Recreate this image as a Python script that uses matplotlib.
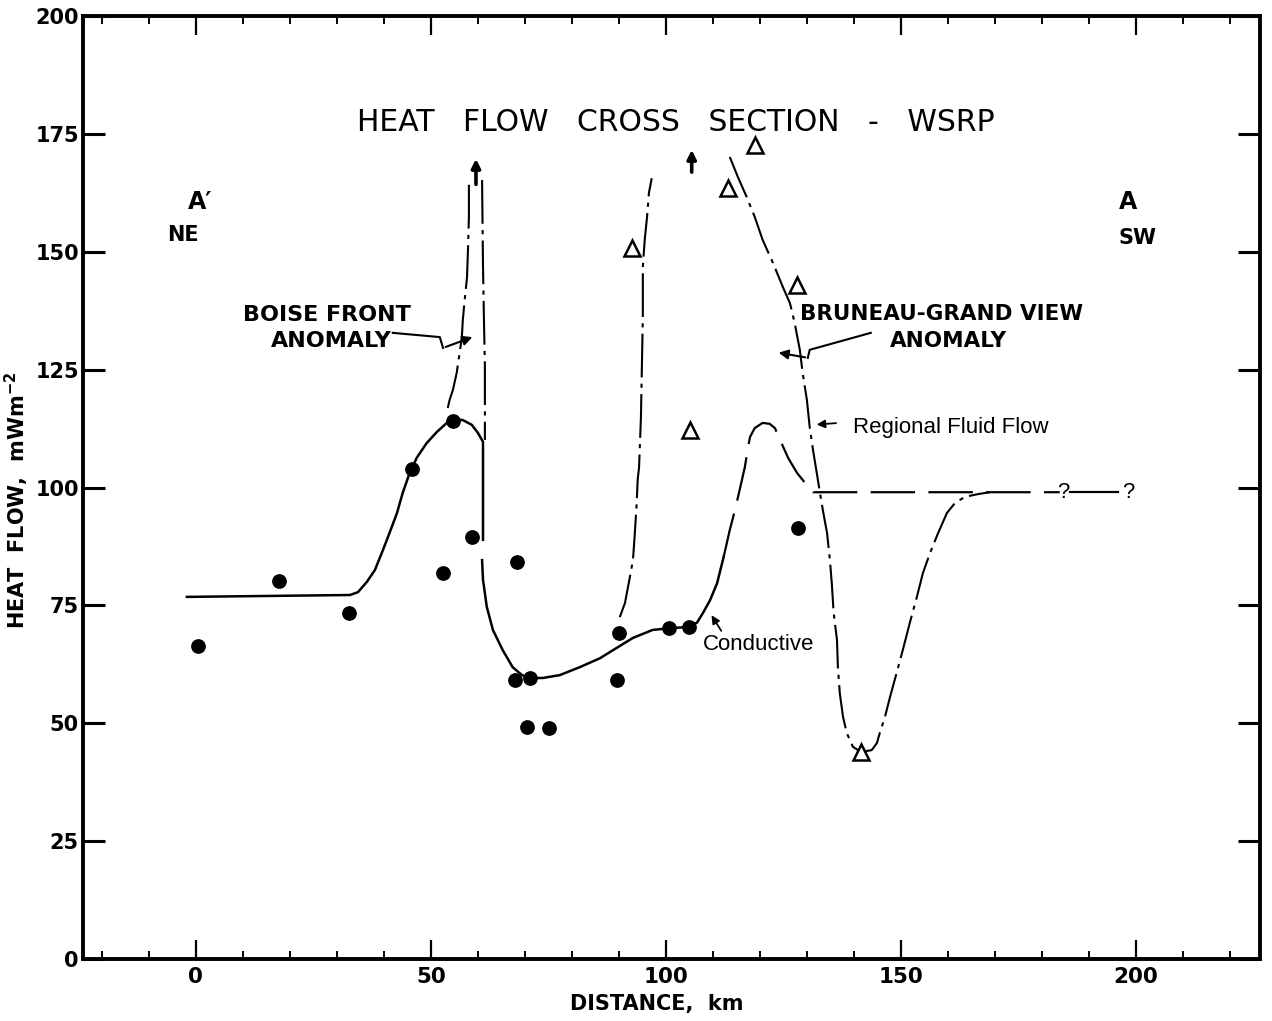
import matplotlib.pyplot as plt
from matplotlib.ticker import MultipleLocator

# measured heat flow (filled circles)
dist_medido = [0.4, 17.7, 32.6, 46.0, 54.7, 52.6, 58.7, 68.3, 67.9, 71.1,
               70.4, 75.1, 90.0, 89.6, 100.6, 104.9, 128.1]
fluxo_medido = [66.4, 80.2, 73.4, 103.9, 114.1, 81.9, 89.5, 84.2, 59.2, 59.6,
                49.2, 49.0, 69.1, 59.2, 70.2, 70.4, 91.4]

# other sites (open triangles)
dist_tri = [92.8, 105.1, 118.9, 113.2, 127.9, 141.5]
fluxo_tri = [150.8, 112.2, 172.6, 163.5, 142.9, 43.9]

# conductive model, solid part
cond1_x = [-1.9, 32.8, 34.5, 36.4, 38.1, 39.8, 41.3, 42.8, 44.0, 45.5, 47.0, 49.1,
           51.3, 53.4, 54.7, 56.8, 58.7, 60.0, 61.1, 61.1, 61.1]
cond1_y = [76.8, 77.2, 77.8, 80.0, 82.5, 86.7, 90.6, 94.6, 98.8, 103.1, 106.3, 109.4,
           111.8, 113.7, 114.5, 114.3, 113.3, 111.6, 109.7, 107.3, 88.9]
cond2_x = [60.9, 61.1, 61.9, 63.2, 65.3, 67.4, 69.4, 71.1, 73.8, 77.4, 81.7, 86.0,
           88.1, 93.0, 97.2, 101.5, 104.5, 106.6, 107.9, 109.4, 110.9, 112.3]
cond2_y = [84.6, 80.4, 74.7, 69.8, 65.5, 61.9, 60.2, 59.6, 59.6, 60.2, 61.9, 63.8,
           65.1, 68.1, 69.8, 70.2, 70.4, 71.3, 73.4, 76.1, 79.7, 85.3]
# conductive model, dashed part
cond3_x = [112.3, 113.6, 114.7, 115.7, 116.8, 117.4, 117.9, 118.9, 120.6, 122.1,
           123.2, 124.3, 126.0, 127.9, 129.6, 131.3, 183.8]
cond3_y = [85.3, 91.0, 95.2, 99.5, 104.3, 108.0, 110.7, 112.6, 113.7, 113.5,
           112.6, 110.1, 106.3, 103.1, 101.0, 99.0, 99.0]

# fluid flow curves (dash-dot)
boise_esq_x = [58.1, 58.1, 57.9, 57.7, 57.2, 56.8, 56.6, 56.0, 55.5, 54.7, 54.0, 53.4]
boise_esq_y = [164.2, 157.4, 150.4, 144.6, 139.8, 135.5, 131.9, 127.7, 124.3, 120.7,
               118.6, 116.0]
boise_dir_x = [60.9, 61.1, 61.3, 61.5, 61.5]
boise_dir_y = [165.2, 146.8, 135.5, 125.6, 110.1]
meio_x = [90.2, 91.3, 92.1, 93.0, 93.4, 93.8, 94.0, 94.3, 94.7, 94.9, 95.1, 95.1,
          95.5, 96.0, 96.4, 97.0]
meio_y = [72.5, 75.5, 79.7, 84.6, 90.3, 96.7, 101.6, 104.3, 115.0, 125.6, 136.2, 146.8,
          152.5, 157.4, 162.5, 165.6]
bruneau_x = [113.6, 115.3, 117.2, 118.9, 120.6, 122.8, 124.9, 126.4, 127.4, 128.5,
             129.1, 130.0, 130.6, 131.3, 132.1, 132.8, 133.4, 134.3, 134.9, 135.3,
             135.7, 136.4, 136.6, 137.0, 137.7, 138.5, 139.8, 141.5, 143.8, 144.9,
             145.5, 146.6, 147.7, 149.1, 150.4, 151.9, 153.4, 154.7, 156.2, 157.9,
             159.8, 161.5, 163.6, 166.4, 168.9]
bruneau_y = [170.1, 165.9, 161.6, 157.4, 152.5, 147.6, 142.5, 139.1, 134.9, 129.2,
             124.3, 118.6, 112.8, 108.0, 103.1, 98.8, 95.2, 90.3, 84.6, 79.7,
             73.4, 67.7, 61.9, 56.4, 51.3, 47.9, 45.0, 43.9, 44.3, 45.8,
             47.9, 51.3, 55.6, 60.7, 65.5, 71.3, 76.8, 81.9, 86.1, 90.3,
             94.6, 96.7, 98.0, 98.6, 99.0]

preto = 'black'
traco_ponto = (0, (21, 3, 2, 3))
tracejado = (0, (20, 6))

plt.rcParams['font.family'] = 'DejaVu Sans'

fig = plt.figure(figsize=(12.72, 10.21), dpi=100)
ax = fig.add_axes([83 / 1272, 62 / 1021, 1177 / 1272, 943 / 1021])

ax.plot(cond1_x, cond1_y, color=preto, lw=1.8)
ax.plot(cond2_x, cond2_y, color=preto, lw=1.8)
ax.plot(cond3_x, cond3_y, color=preto, lw=1.6, linestyle=tracejado)
ax.plot([186.0, 196.2], [99.0, 99.0], color=preto, lw=1.6)

for xs, ys in [(boise_esq_x, boise_esq_y), (boise_dir_x, boise_dir_y),
               (meio_x, meio_y), (bruneau_x, bruneau_y)]:
    ax.plot(xs, ys, color=preto, lw=1.5, linestyle=traco_ponto)

ax.plot(dist_medido, fluxo_medido, 'o', color=preto, ms=9.6, zorder=5)
ax.plot(dist_tri, fluxo_tri, '^', mfc='white', mec=preto, mew=1.8, ms=11, zorder=5)

# upward arrows (values off scale)
for xa, y0, y1 in [(59.6, 163.7, 170.3), (105.5, 166.3, 172.2)]:
    ax.annotate('', xy=(xa, y1), xytext=(xa, y0),
                arrowprops=dict(arrowstyle='-|>', color=preto, lw=2.6, mutation_scale=13))

# anomaly labels with jogged leader arrows
ax.plot([41.9, 51.9, 52.6], [132.8, 131.9, 129.6], color=preto, lw=1.5)
ax.annotate('', xy=(59.4, 132.1), xytext=(52.6, 129.6),
            arrowprops=dict(arrowstyle='-|>', color=preto, lw=1.5, mutation_scale=14))
ax.plot([143.6, 130.6, 130.2], [132.8, 129.2, 127.5], color=preto, lw=1.5)
ax.annotate('', xy=(123.4, 128.7), xytext=(130.2, 127.5),
            arrowprops=dict(arrowstyle='-|>', color=preto, lw=1.5, mutation_scale=14))
ax.annotate('', xy=(131.5, 113.3), xytext=(136.8, 113.7),
            arrowprops=dict(arrowstyle='-|>', color=preto, lw=1.3, mutation_scale=12))
ax.annotate('', xy=(109.4, 73.4), xytext=(112.1, 69.1),
            arrowprops=dict(arrowstyle='-|>', color=preto, lw=1.3, mutation_scale=12))

ax.text(102.2, 177.5, 'HEAT   FLOW   CROSS   SECTION   -   WSRP', ha='center', va='center',
        fontsize=21.5)
ax.text(0.9, 160.6, 'A\u2032', ha='center', va='center', fontsize=17, fontweight='bold')
ax.text(-2.8, 153.6, 'NE', ha='center', va='center', fontsize=15, fontweight='bold')
ax.text(198.3, 160.6, 'A', ha='center', va='center', fontsize=17, fontweight='bold')
ax.text(200.4, 152.9, 'SW', ha='center', va='center', fontsize=15, fontweight='bold')
ax.text(27.9, 136.6, 'BOISE FRONT', ha='center', va='center', fontsize=16, fontweight='bold')
ax.text(41.7, 131.1, 'ANOMALY', ha='right', va='center', fontsize=16, fontweight='bold')
ax.text(158.6, 136.7, 'BRUNEAU-GRAND VIEW', ha='center', va='center', fontsize=15.5,
        fontweight='bold')
ax.text(160.2, 131.1, 'ANOMALY', ha='center', va='center', fontsize=15.5, fontweight='bold')
ax.text(139.8, 112.8, 'Regional Fluid Flow', ha='left', va='center', fontsize=16,
        family='Liberation Sans')
ax.text(107.9, 66.6, 'Conductive', ha='left', va='center', fontsize=16,
        family='Liberation Sans')
for xq in [184.5, 198.3]:
    ax.text(xq, 99.0, '?', ha='center', va='center', fontsize=16, family='Liberation Sans')

ax.set_xlim(-24, 226.4)
ax.set_ylim(0, 200)
ax.xaxis.set_major_locator(MultipleLocator(50))
ax.xaxis.set_minor_locator(MultipleLocator(10))
ax.yaxis.set_major_locator(MultipleLocator(25))
ax.tick_params(which='both', direction='in', top=True, right=True, colors=preto)
ax.tick_params(axis='x', which='major', length=14, width=1.6, pad=6, labelsize=15.5)
ax.tick_params(axis='x', which='minor', length=5.5, width=1.4)
ax.tick_params(axis='y', which='major', length=16, width=2.2, pad=3, labelsize=15)
for lbl in ax.get_xticklabels() + ax.get_yticklabels():
    lbl.set_fontweight('bold')
for lado in ax.spines.values():
    lado.set_linewidth(2.8)

fig.text(657 / 1272, 1 - 1004 / 1021, 'DISTANCE,  km', ha='center', va='center',
         fontsize=15, fontweight='bold')
fig.text(17 / 1272, 1 - 500 / 1021, r'HEAT  FLOW,  mWm$^{\mathbf{-2}}$', ha='center',
         va='center', rotation=90, fontsize=15, fontweight='bold')

fig.savefig('out.png', dpi=100)
